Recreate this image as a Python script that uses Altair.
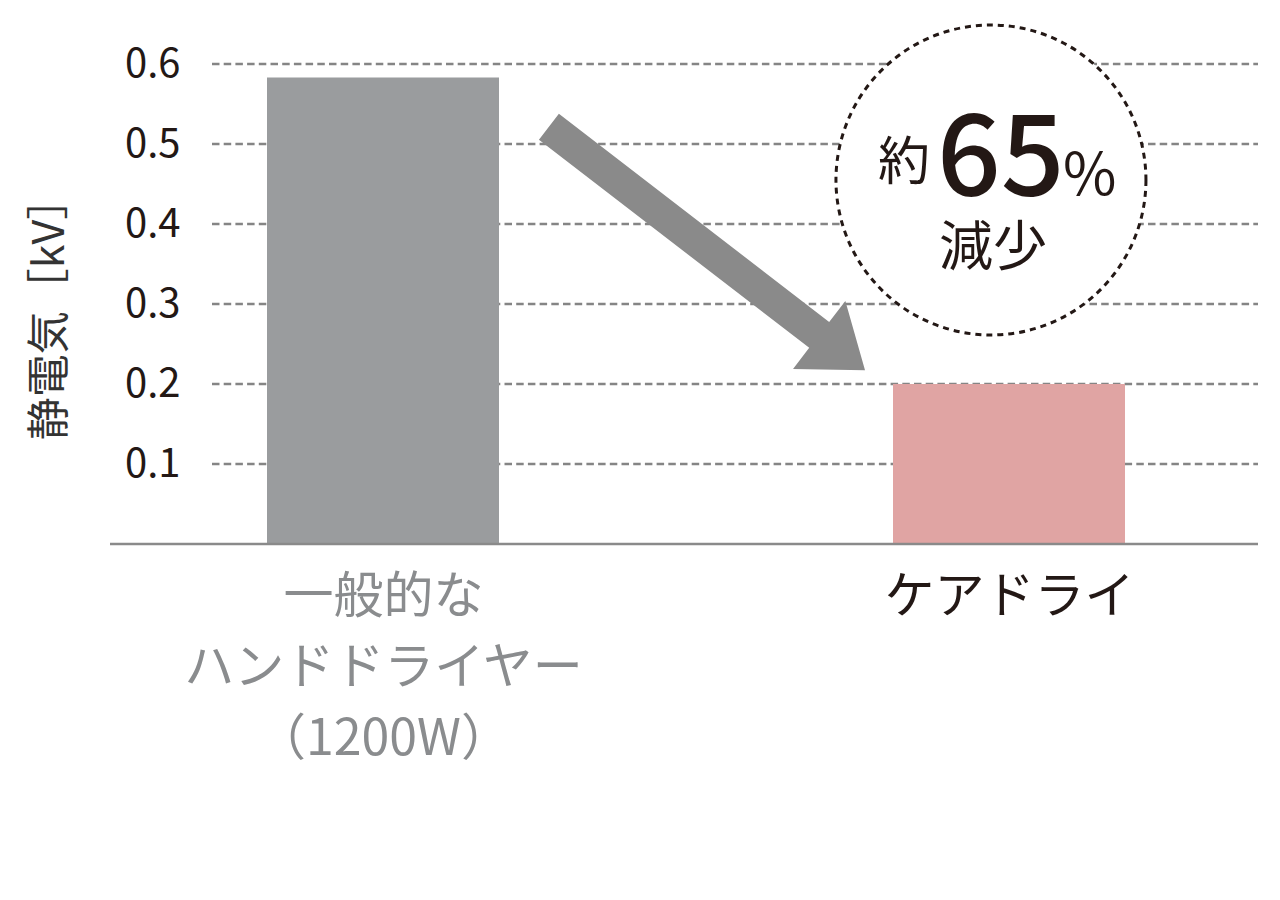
import altair as alt
import pandas as pd

FONT = "Noto Sans CJK JP"

# ---- data ----
categories = ["一般的な\nハンドドライヤー\n（1200W）", "ケアドライ"]
values = [0.583, 0.200]
bar_colors = ["#9a9c9e", "#e0a4a3"]
y_ticks = [0.1, 0.2, 0.3, 0.4, 0.5, 0.6]
y_title = "静電気［kV］"
badge_prefix = "約"
badge_number = "65"
badge_percent = "%"
badge_suffix = "減少"

# ---- layout (plot-area fractions for x, kV for y) ----
W, H = 1046, 480
arrow_at = (0.4732, 0.3694)
arrow_angle = 37.6
arrow_len = 399
circle_at = (0.7447, 0.455)
circle_diam = 310
ARROW_PATH = "M-1,-0.082 L0.71,-0.082 L0.71,-0.215 L1,0 L0.71,0.215 L0.71,0.082 L-1,0.082 Z"

df = pd.DataFrame({"cat": categories, "v": values})

y_scale = alt.Scale(domain=[0, 0.6], nice=False)

grid = alt.Chart(pd.DataFrame({"v": y_ticks})).mark_rule(
    color="#858585", strokeWidth=2.6, strokeDash=[7.5, 4.2]
).encode(y=alt.Y("v:Q", scale=y_scale, axis=None), x=alt.value(0), x2=alt.value(W))

bars = alt.Chart(df).mark_bar(size=232).encode(
    x=alt.X(
        "cat:N",
        sort=categories,
        scale=alt.Scale(type="point", range=[171, 797], padding=0),
        axis=alt.Axis(
            title=None, domain=False, ticks=False, grid=False, labelAngle=0,
            labelExpr="split(datum.label, '\\n')",
            labelFont=FONT, labelFontSize=50,
            labelColor={"condition": {"test": "datum.value == 'ケアドライ'", "value": "#231815"},
                        "value": "#8a8c8e"},
            labelPadding=28, labelLineHeight=71, labelBaseline="top",
            labelLimit=800, labelOverlap=False,
        ),
    ),
    y=alt.Y(
        "v:Q",
        scale=y_scale,
        axis=alt.Axis(
            values=y_ticks, format=".1f", domain=False, ticks=False, grid=False,
            labelFont=FONT, labelFontSize=40, labelColor="#231815", labelPadding=32,
            title=y_title, titleFont=FONT, titleFontSize=43, titleFontWeight="normal",
            titleColor="#333333", titleAngle=270, titleX=-162, titleY=244,
            titleAlign="center", titleBaseline="middle",
        ),
    ),
    color=alt.Color("cat:N", scale=alt.Scale(domain=categories, range=bar_colors), legend=None),
)

baseline = alt.Chart(pd.DataFrame({"v": [0.0]})).mark_rule(color="#8a8a8a", strokeWidth=2.5).encode(
    y=alt.Y("v:Q", axis=None), x=alt.value(-102), x2=alt.value(W)
)

xq = alt.Scale(domain=[0, 1])

arrow = alt.Chart(pd.DataFrame({"fx": [arrow_at[0]], "v": [arrow_at[1]]})).mark_point(
    shape=ARROW_PATH, size=arrow_len ** 2, angle=arrow_angle, filled=True,
    color="#8a8a8a", opacity=1, strokeWidth=0,
).encode(x=alt.X("fx:Q", scale=xq, axis=None), y=alt.Y("v:Q", axis=None))

circle = alt.Chart(pd.DataFrame({"fx": [circle_at[0]], "v": [circle_at[1]]})).mark_point(
    shape="circle", size=circle_diam ** 2, filled=False, fill="white", fillOpacity=1,
    stroke="#231815", strokeWidth=3, strokeDash=[6, 5], opacity=1,
).encode(x=alt.X("fx:Q", scale=xq, axis=None), y=alt.Y("v:Q", axis=None))

t1 = alt.Chart(pd.DataFrame({"fx": [0.6616], "v": [0.4745], "t": [badge_prefix]})).mark_text(
    font=FONT, fontSize=52, color="#231815", align="center", baseline="middle"
).encode(x=alt.X("fx:Q", scale=xq, axis=None), y=alt.Y("v:Q", axis=None), text="t:N")

t2 = alt.Chart(pd.DataFrame({"fx": [0.693], "v": [0.4362], "t": [badge_number]})).mark_text(
    font=FONT, fontSize=112, fontWeight=500, color="#231815", align="left", baseline="alphabetic"
).encode(x=alt.X("fx:Q", scale=xq, axis=None), y=alt.Y("v:Q", axis=None), text="t:N")

t3 = alt.Chart(pd.DataFrame({"fx": [0.8135], "v": [0.4362], "t": [badge_percent]})).mark_text(
    font=FONT, fontSize=58, color="#231815", align="left", baseline="alphabetic"
).encode(x=alt.X("fx:Q", scale=xq, axis=None), y=alt.Y("v:Q", axis=None), text="t:N")

t4 = alt.Chart(pd.DataFrame({"fx": [0.7467], "v": [0.3675], "t": [badge_suffix]})).mark_text(
    font=FONT, fontSize=54, color="#231815", align="center", baseline="middle"
).encode(x=alt.X("fx:Q", scale=xq, axis=None), y=alt.Y("v:Q", axis=None), text="t:N")

chart = alt.layer(grid, bars, baseline, arrow, circle, t1, t2, t3, t4).resolve_scale(
    x="independent"
).resolve_axis(
    y="independent"
).properties(
    width=W, height=H,
    autosize="none",
    padding={"left": 204, "top": 56, "right": 6, "bottom": 340},
    background="white",
).configure_view(stroke=None)

chart.save("out.html", embed_options={"renderer": "svg", "actions": False})
